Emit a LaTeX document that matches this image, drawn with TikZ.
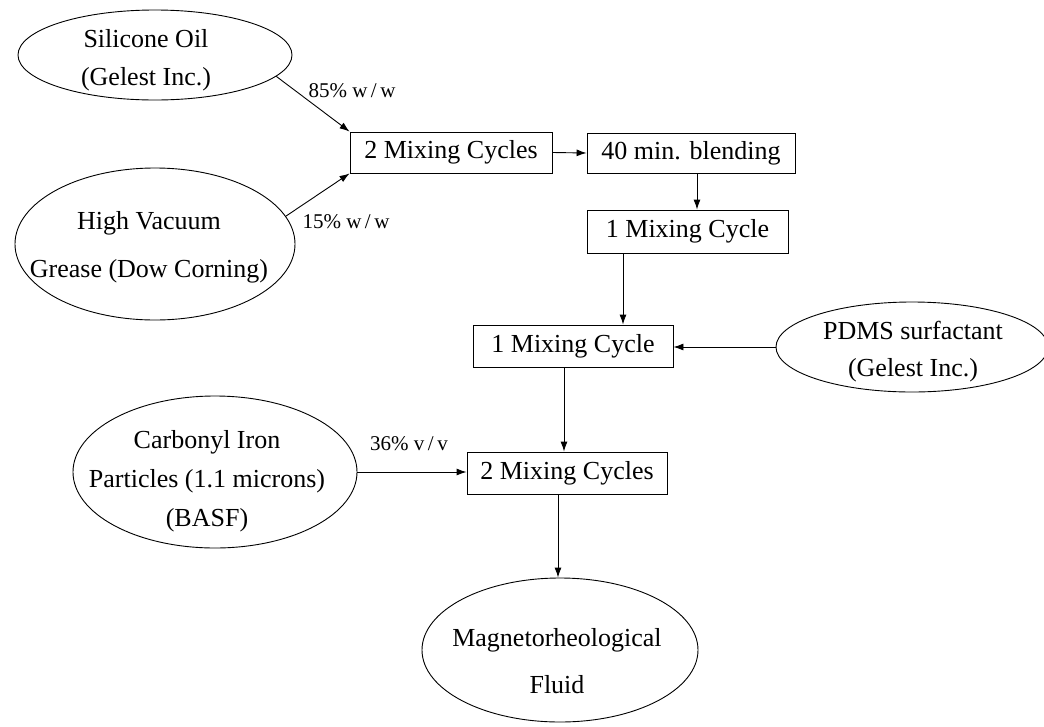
\documentclass[tikz,border=0pt]{standalone}
\usepackage{fontspec}
\setmainfont{Liberation Serif}
\usetikzlibrary{shapes.geometric,arrows.meta}
% #1 line pitch, #2 x shift, #3 y shift (down), #4 lines
\newcommand{\ztext}[4]{\smash{\makebox[0pt]{\kern#2pt\raisebox{\dimexpr-6pt-#3pt\relax}{\fontsize{26}{#1}\selectfont\begin{tabular}{@{}c@{}}#4\end{tabular}}\kern-#2pt}}}
\tikzset{
  src/.style={draw, ellipse, line width=0.9pt, inner sep=0pt},
  stepbox/.style={draw, rectangle, line width=0.9pt, inner sep=0pt, font=\fontsize{26}{30}\selectfont},
  arr/.style={draw, line width=0.9pt, -{Latex[length=10pt,width=7pt]}},
  lbl/.style={font=\fontsize{21}{24}\selectfont, inner sep=0pt}
}
\begin{document}
\begin{tikzpicture}[x=1pt,y=-1pt]
\useasboundingbox[fill=white] (0,0) rectangle (1044,726);
% sources
\node[src, minimum width=274pt, minimum height=90pt] (silicone) at (155,55) {\ztext{38}{-9}{4}{Silicone Oil\\(Gelest Inc.)}};
\node[src, minimum width=280pt, minimum height=152pt] (vacuum) at (155,244) {\ztext{48}{-6}{0}{High Vacuum\\Grease (Dow Corning)}};
\node[src, minimum width=272pt, minimum height=90pt] (pdms) at (912,347) {\ztext{37}{1}{4}{PDMS surfactant\\(Gelest Inc.)}};
\node[src, minimum width=284pt, minimum height=152pt] (carbonyl) at (215,472) {\ztext{39}{-8}{8}{Carbonyl Iron\\Particles (1.1 microns)\\(BASF)}};
\node[src, minimum width=276pt, minimum height=144pt] (mr) at (560,650) {\ztext{47}{-3}{11}{Magnetorheological\\Fluid}};
% steps
\node[stepbox, minimum width=202pt, minimum height=41pt] (mixA) at (451,152.5) {2 Mixing Cycles};
\node[stepbox, minimum width=208pt, minimum height=40pt] (blend) at (691,153) {40 min. blending};
\node[stepbox, minimum width=201pt, minimum height=43pt] (mixB) at (687.5,231.5) {1 Mixing Cycle};
\node[stepbox, minimum width=200pt, minimum height=42pt] (mixC) at (573,346) {1 Mixing Cycle};
\node[stepbox, minimum width=200pt, minimum height=42pt] (mixD) at (567,473) {2 Mixing Cycles};
% connectors
\draw[arr] (silicone.-10) -- (mixA.north west);
\node[lbl] (l85) at (352,91) {85\% w\,/\,w};
\draw[arr] (vacuum.12) -- (mixA.south west);
\node[lbl] (l15) at (346,222) {15\% w\,/\,w};
\draw[arr] (mixA.east) -- (blend.west);
\draw[arr] ([xshift=6pt]blend.south) -- ([xshift=6pt]blend.south |- mixB.north);
\draw[arr] ([xshift=-64.5pt]mixB.south) -- ([xshift=-64.5pt]mixB.south |- mixC.north);
\draw[arr] (pdms.west) -- (pdms.west -| mixC.east);
\draw[arr] ([xshift=-9pt]mixC.south) -- ([xshift=-9pt]mixC.south |- mixD.north);
\draw[arr] (carbonyl.east) -- (carbonyl.east -| mixD.west);
\node[lbl] (l36) at (409,444) {36\% v\,/\,v};
\draw[arr] ([xshift=-9pt]mixD.south) -- ([xshift=-9pt]mixD.south |- mr.north);
\end{tikzpicture}
\end{document}
